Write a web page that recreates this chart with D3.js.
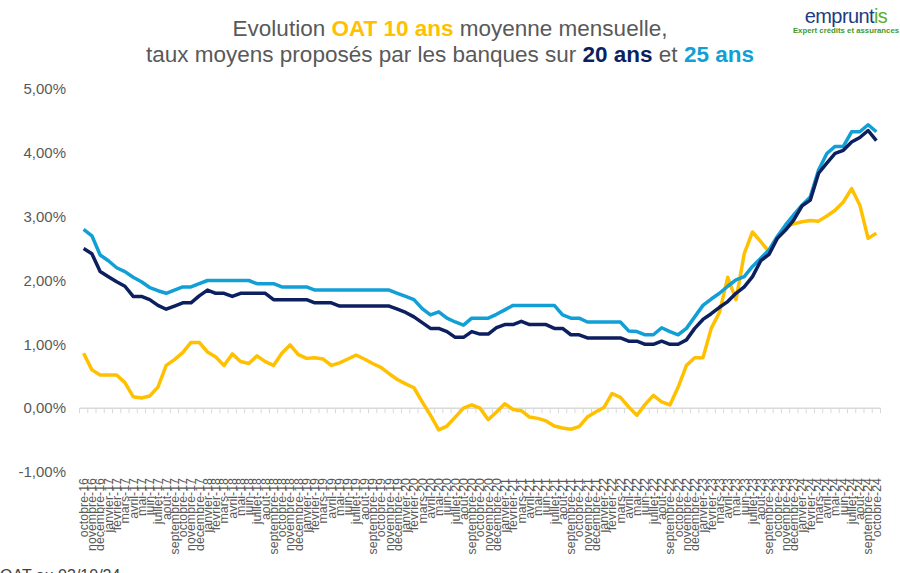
<!DOCTYPE html>
<html><head><meta charset="utf-8">
<script src="https://cdn.jsdelivr.net/npm/d3@7"></script>
<style>body{margin:0;background:#fff}svg{display:block}text{font-family:"Liberation Sans",Arial,sans-serif}</style>
</head><body>
<svg id="c" width="900" height="573"></svg>
<script>
const monthNames = ["janvier","février","mars","avril","mai","juin","juillet","août","septembre","octobre","novembre","décembre"];
const categories = [];
for (let i = 0; i < 97; i++) { const m = (9 + i) % 12; const y = 16 + Math.floor((9 + i) / 12); categories.push(monthNames[m] + "-" + y); }

const oat10 = [0.86,0.60,0.52,0.52,0.52,0.40,0.18,0.16,0.19,0.33,0.67,0.76,0.87,1.03,1.03,0.88,0.80,0.67,0.85,0.73,
0.70,0.82,0.73,0.67,0.86,0.99,0.84,0.78,0.79,0.77,0.67,0.71,0.77,0.83,0.77,0.70,0.64,0.54,0.45,0.38,
0.32,0.10,-0.11,-0.34,-0.28,-0.14,0.00,0.05,0.00,-0.18,-0.06,0.07,-0.02,-0.04,-0.14,-0.16,-0.20,-0.28,-0.31,-0.33,
-0.29,-0.14,-0.06,0.01,0.23,0.17,0.02,-0.11,0.06,0.20,0.10,0.05,0.33,0.67,0.79,0.79,1.25,1.50,2.05,1.70,
2.42,2.76,2.61,2.45,2.66,2.84,2.89,2.92,2.94,2.93,3.01,3.10,3.23,3.44,3.18,2.66,2.74];

const taux20 = [2.50,2.42,2.14,2.06,1.98,1.91,1.75,1.75,1.70,1.61,1.55,1.60,1.65,1.65,1.76,1.85,1.80,1.80,1.75,1.80,
1.80,1.80,1.80,1.70,1.70,1.70,1.70,1.70,1.65,1.65,1.65,1.60,1.60,1.60,1.60,1.60,1.60,1.60,1.55,1.50,
1.43,1.34,1.25,1.25,1.20,1.11,1.11,1.20,1.16,1.16,1.26,1.31,1.31,1.36,1.31,1.31,1.31,1.25,1.25,1.15,
1.15,1.10,1.10,1.10,1.10,1.10,1.05,1.05,1.00,1.00,1.05,1.00,1.00,1.07,1.25,1.39,1.48,1.58,1.67,1.80,
1.90,2.06,2.31,2.41,2.66,2.79,2.95,3.17,3.26,3.68,3.84,3.99,4.04,4.17,4.24,4.35,4.19];

const taux25 = [2.80,2.70,2.40,2.31,2.20,2.14,2.05,1.98,1.89,1.84,1.80,1.85,1.90,1.90,1.95,2.00,2.00,2.00,2.00,2.00,
2.00,1.95,1.95,1.95,1.90,1.90,1.90,1.90,1.85,1.85,1.85,1.85,1.85,1.85,1.85,1.85,1.85,1.85,1.80,1.75,
1.70,1.56,1.46,1.51,1.41,1.35,1.30,1.41,1.41,1.41,1.47,1.54,1.61,1.61,1.61,1.61,1.61,1.61,1.46,1.41,
1.41,1.35,1.35,1.35,1.35,1.35,1.21,1.20,1.15,1.15,1.26,1.20,1.15,1.25,1.43,1.61,1.71,1.80,1.91,2.01,
2.06,2.22,2.35,2.48,2.69,2.87,3.03,3.18,3.31,3.73,3.99,4.10,4.10,4.33,4.33,4.44,4.33];

const yTicks = [-1,0,1,2,3,4,5];
const yTickLabels = ["-1,00%","0,00%","1,00%","2,00%","3,00%","4,00%","5,00%"];

const svg = d3.select("#c");
const x = d3.scaleBand().domain(categories).range([79.5, 880.5]).paddingInner(0).paddingOuter(0);
const y = d3.scaleLinear().domain([-1, 5]).range([472, 89]);
const cx = c => x(c) + x.bandwidth() / 2;

// Y axis labels
const yAxis = d3.axisLeft(y).tickValues(yTicks).tickFormat((d, i) => yTickLabels[i]).tickSize(0).tickPadding(0);
const gy = svg.append("g").attr("transform", "translate(66,0)").call(yAxis);
gy.select(".domain").remove();
gy.selectAll("text").attr("fill", "#595959").style("font-size", "15px").style("font-family", '"Liberation Sans",Arial,sans-serif');

// zero axis line with ticks at band boundaries
const gx = svg.append("g");
gx.append("line").attr("x1", x.range()[0]).attr("x2", x.range()[1]).attr("y1", y(0)).attr("y2", y(0)).attr("stroke", "#D9D9D9").attr("stroke-width", 1.5);
const bounds = categories.map(c => x(c)).concat([x.range()[1]]);
gx.selectAll("line.t").data(bounds).join("line").attr("class", "t")
  .attr("x1", d => d).attr("x2", d => d).attr("y1", y(0)).attr("y2", y(0) + 5).attr("stroke", "#D9D9D9").attr("stroke-width", 1);

// category labels (low position)
const xAxis = d3.axisBottom(x).tickSize(0).tickPadding(0);
const gl = svg.append("g").attr("transform", "translate(0,478)").call(xAxis);
gl.select(".domain").remove();
gl.selectAll("text").attr("transform", "rotate(-90)").attr("text-anchor", "end").attr("x", 0).attr("y", 0).attr("dx", 0).attr("dy", "0.35em")
  .attr("fill", "#595959").style("font-size", "12.4px").style("font-family", '"Liberation Sans",Arial,sans-serif');

// Lines
const line = vals => d3.line().x((d, i) => cx(categories[i])).y(d => y(d))(vals);
svg.append("path").attr("d", line(oat10)).attr("fill", "none").attr("stroke", "#FFC000").attr("stroke-width", 3.5).attr("stroke-linejoin", "round");
svg.append("path").attr("d", line(taux25)).attr("fill", "none").attr("stroke", "#129FD6").attr("stroke-width", 3.5).attr("stroke-linejoin", "round");
svg.append("path").attr("d", line(taux20)).attr("fill", "none").attr("stroke", "#0C1F5E").attr("stroke-width", 3.5).attr("stroke-linejoin", "round");

// Title
const t1 = svg.append("text").attr("x", 450).attr("y", 36).attr("text-anchor", "middle").style("font-size", "22.5px").attr("fill", "#595959");
t1.append("tspan").text("Evolution ");
t1.append("tspan").text("OAT 10 ans").attr("fill", "#FFC000").attr("font-weight", "bold");
t1.append("tspan").text(" moyenne mensuelle,");
const t2 = svg.append("text").attr("x", 450).attr("y", 62).attr("text-anchor", "middle").style("font-size", "22.5px").attr("fill", "#595959");
t2.append("tspan").text("taux moyens proposés par les banques sur ");
t2.append("tspan").text("20 ans").attr("fill", "#0C1F5E").attr("font-weight", "bold");
t2.append("tspan").text(" et ");
t2.append("tspan").text("25 ans").attr("fill", "#129FD6").attr("font-weight", "bold");

// Logo
const lg = svg.append("text").attr("x", 846).attr("y", 23).attr("text-anchor", "middle").style("font-size", "20px").attr("letter-spacing", "-0.6px");
lg.append("tspan").text("emprunt").attr("fill", "#1B3C82");
lg.append("tspan").text("is").attr("fill", "#5DAE2A");
svg.append("text").attr("x", 846).attr("y", 33).attr("text-anchor", "middle").style("font-size", "7.8px").attr("font-weight", "bold").attr("fill", "#3E9A2E").text("Expert crédits et assurances");

// Footnote
svg.append("text").attr("x", 0).attr("y", 581).style("font-size", "16px").attr("fill", "#404040").text("OAT au 03/10/24");
</script>
</body></html>
